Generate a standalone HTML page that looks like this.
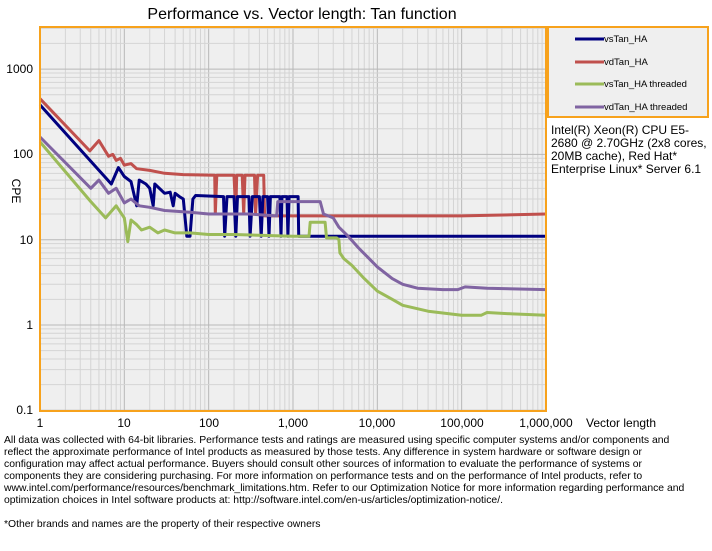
<!DOCTYPE html>
<html><head><meta charset="utf-8"><style>
body{margin:0;background:#fff;width:712px;height:546px;overflow:hidden;font-family:"Liberation Sans",sans-serif}
</style></head><body>
<svg id="s" width="712" height="546" xmlns="http://www.w3.org/2000/svg" font-family="Liberation Sans, sans-serif">
<rect x="40" y="27" width="506" height="384" fill="#efefef"/>
<g id="grid"></g>
<g id="series" fill="none" stroke-width="3" stroke-linejoin="round"></g>
<rect x="40" y="27" width="506" height="384" fill="none" stroke="#f7a21c" stroke-width="2"/>
<text x="302" y="19" font-size="16" text-anchor="middle">Performance vs. Vector length: Tan function</text>
<g font-size="12" text-anchor="end">
<text x="33" y="73">1000</text><text x="33" y="158">100</text><text x="33" y="244">10</text><text x="33" y="329">1</text><text x="33" y="414">0.1</text>
</g>
<text x="12" y="191" font-size="12" transform="rotate(90 12 191)" text-anchor="middle">CPE</text>
<g font-size="12" text-anchor="middle">
<text x="40" y="427">1</text><text x="124" y="427">10</text><text x="209" y="427">100</text><text x="293" y="427">1,000</text><text x="377" y="427">10,000</text><text x="462" y="427">100,000</text><text x="546" y="427">1,000,000</text>
</g>
<text x="586" y="427" font-size="12">Vector length</text>
<rect x="548" y="27" width="160" height="90" fill="#efefef" stroke="#f7a21c" stroke-width="2"/>
<g stroke-width="3">
<line x1="575" y1="39" x2="604" y2="39" stroke="#000080"/>
<line x1="575" y1="62" x2="604" y2="62" stroke="#c0504d"/>
<line x1="575" y1="84" x2="604" y2="84" stroke="#9bbb59"/>
<line x1="575" y1="107" x2="604" y2="107" stroke="#8064a2"/>
</g>
<g font-size="9.5">
<text x="604" y="42">vsTan_HA</text><text x="604" y="65">vdTan_HA</text><text x="604" y="87">vsTan_HA threaded</text><text x="604" y="110">vdTan_HA threaded</text>
</g>
<g font-size="12">
<text x="551" y="134">Intel(R) Xeon(R) CPU E5-</text>
<text x="551" y="147">2680 @ 2.70GHz (2x8 cores,</text>
<text x="551" y="160">20MB cache), Red Hat*</text>
<text x="551" y="173">Enterprise Linux* Server 6.1</text>
</g>
<g font-size="10.4">
<text x="4" y="443">All data was collected with 64-bit libraries. Performance tests and ratings are measured using specific computer systems and/or components and</text>
<text x="4" y="455">reflect the approximate performance of Intel products as measured by those tests. Any difference in system hardware or software design or</text>
<text x="4" y="467">configuration may affect actual performance. Buyers should consult other sources of information to evaluate the performance of systems or</text>
<text x="4" y="479">components they are considering purchasing. For more information on performance tests and on the performance of Intel products, refer to</text>
<text x="4" y="491">www.intel.com/performance/resources/benchmark_limitations.htm.  Refer to our Optimization  Notice for more information regarding performance and</text>
<text x="4" y="503">optimization choices in Intel software products at: http://software.intel.com/en-us/articles/optimization-notice/.</text>
<text x="4" y="527">*Other brands and names are the property of their respective owners</text>
</g>
</svg>
<script>
var X=function(v){return 40+84.33*Math.log10(v)},Y=function(c){return 325-85.3*Math.log10(c)};
var g='';
for(var d=0;d<6;d++)for(var k=1;k<10;k++){var x=X(k*Math.pow(10,d));g+='<line x1="'+x+'" y1="27" x2="'+x+'" y2="411" stroke="'+(k==1?'#b8b8b8':'#d4d4d4')+'" stroke-width="1"/>';}
for(var d=-1;d<4;d++)for(var k=1;k<10;k++){var y=Y(k*Math.pow(10,d));if(y<27)continue;g+='<line x1="40" y1="'+y+'" x2="546" y2="'+y+'" stroke="'+(k==1?'#b8b8b8':'#d4d4d4')+'" stroke-width="1"/>';}
document.getElementById('grid').innerHTML=g;
function P(a,c){var s='';for(var i=0;i<a.length;i+=2)s+=X(a[i]).toFixed(1)+','+Y(a[i+1]).toFixed(1)+' ';return '<polyline points="'+s+'" stroke="'+c+'"/>';}
var red=[1,450,3.9,110,5,145,6.5,95,7.3,100,8,85,9,90,10,75,12,78,14,68,20,65,30,60,50,58,118,57,120,20,125,57,200,57,210,20,215,57,250,57,260,20,270,57,350,57,360,20,380,57,450,57,460,19,1000,19,100000,19,1000000,20];
var blue=[1,380,7,45,8.5,70,10,55,12,48,14,25,15,50,18,45,20,40,22,25,23,45,30,35,35,36,38,25,40,35,45,32,50,30,55,11,60,11,65,30,70,33,150,32,155,11,165,32,200,32,210,11,220,32,300,32,310,11,330,32,400,32,420,11,440,32,500,32,520,11,540,32,700,32,720,11,740,32,850,32,870,11,900,32,1150,32,1170,11,1600,11,1000000,11];
var green=[1,140,4,28,6,18,8,25,10,18,11,9.5,12,17,14,15,16,13,20,14,25,12,30,13,40,12,60,12,100,11.5,200,11.5,1000,11,1550,11,1600,16,2400,16,2500,10.5,3300,10.5,3500,10,3600,7,4000,6,5000,5,7000,3.5,10000,2.5,15000,2,20000,1.7,40000,1.45,100000,1.3,170000,1.3,200000,1.4,400000,1.35,1000000,1.3];
var purple=[1,160,4,40,5,50,6.5,35,8,40,10,27,12,30,15,25,20,24,30,22,60,21,100,20,300,20,640,19,660,28,2100,28,2300,20,3000,18,3500,14,4500,11,6000,8,8000,6,10000,4.8,15000,3.5,20000,3,30000,2.7,60000,2.6,90000,2.6,110000,2.8,200000,2.7,1000000,2.6];
document.getElementById('series').innerHTML=P(red,'#c0504d')+P(blue,'#000080')+P(purple,'#8064a2')+P(green,'#9bbb59');
</script>
</body></html>
